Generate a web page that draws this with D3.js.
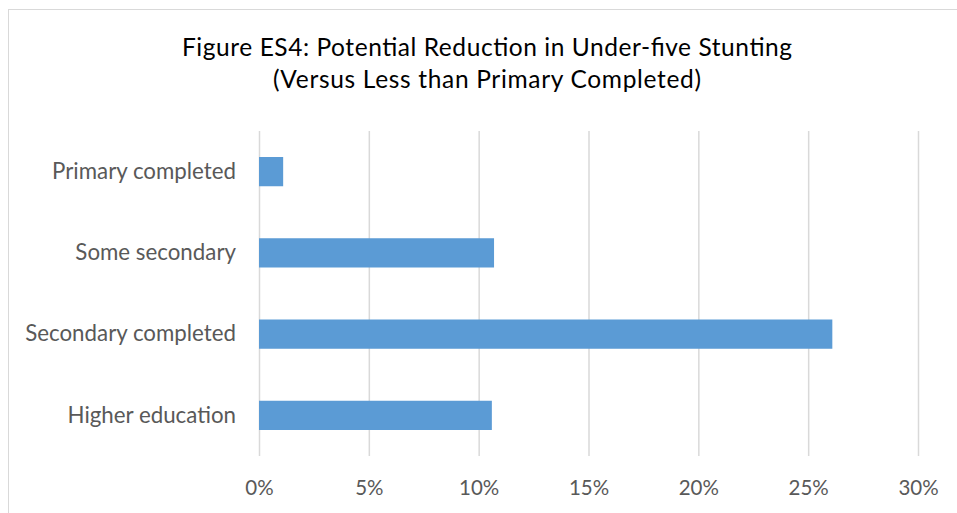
<!DOCTYPE html>
<html>
<head>
<meta charset="utf-8">
<script src="https://cdn.jsdelivr.net/npm/d3@7"></script>
<style>
  html, body { margin: 0; padding: 0; background: #fff; }
  svg { display: block; }
</style>
</head>
<body>
<svg id="chart" width="957" height="513"></svg>
<script>
// Education levels (top to bottom) and potential stunting reduction (%)
const categories = ["Primary completed", "Some secondary", "Secondary completed", "Higher education"];
const reductions = [1.1, 10.7, 26.1, 10.6];
const tickValues = [0, 5, 10, 15, 20, 25, 30];
const titleLines = ["Figure ES4: Potential Reduction in Under-five Stunting", "(Versus Less than Primary Completed)"];

const svg = d3.select("#chart");
const W = 957, H = 513;
const font = "Lato, 'Open Sans', sans-serif";

// chart frame
svg.append("rect")
  .attr("x", 8.5).attr("y", 9.5)
  .attr("width", W).attr("height", H)
  .attr("fill", "#fff").attr("stroke", "#d9d9d9").attr("stroke-width", 1);

const plot = { left: 259, right: 918, top: 131, bottom: 456 };

const x = d3.scaleLinear().domain([0, 30]).range([plot.left, plot.right]);
const y = d3.scaleBand().domain(categories).range([plot.top, plot.bottom]).paddingInner(0.64).paddingOuter(0.32);

// vertical gridlines with percentage labels
const xAxis = d3.axisBottom(x).tickValues(tickValues).tickFormat(d => d + "%")
  .tickSize(plot.bottom - plot.top).tickPadding(24);
const gx = svg.append("g").attr("transform", `translate(0,${plot.top})`).call(xAxis);
gx.select(".domain").remove();
gx.selectAll(".tick line").attr("stroke", "#d9d9d9").attr("stroke-width", 1.5);
gx.selectAll(".tick text")
  .attr("fill", "#595959").attr("font-family", font).attr("font-size", 20.5);

// bars
svg.append("g").selectAll("rect").data(categories).join("rect")
  .attr("x", x(0))
  .attr("y", d => y(d))
  .attr("width", (d, i) => x(reductions[i]) - x(0))
  .attr("height", y.bandwidth())
  .attr("fill", "#5b9bd5");

// category labels
const yAxis = d3.axisLeft(y).tickSize(0).tickPadding(23);
const gy = svg.append("g").attr("transform", `translate(${plot.left},0)`).call(yAxis);
gy.select(".domain").remove();
gy.selectAll(".tick text")
  .attr("fill", "#595959").attr("font-family", font).attr("font-size", 22.3);

// two-line title
const titleWidths = [610, 428];
svg.append("g").selectAll("text").data(titleLines).join("text")
  .attr("x", 487)
  .attr("y", (d, i) => 56 + i * 32)
  .attr("text-anchor", "middle")
  .attr("fill", "#000")
  .attr("font-family", font)
  .attr("font-size", 24.5)
  .attr("textLength", (d, i) => titleWidths[i])
  .attr("lengthAdjust", "spacing")
  .text(d => d);
</script>
</body>
</html>
